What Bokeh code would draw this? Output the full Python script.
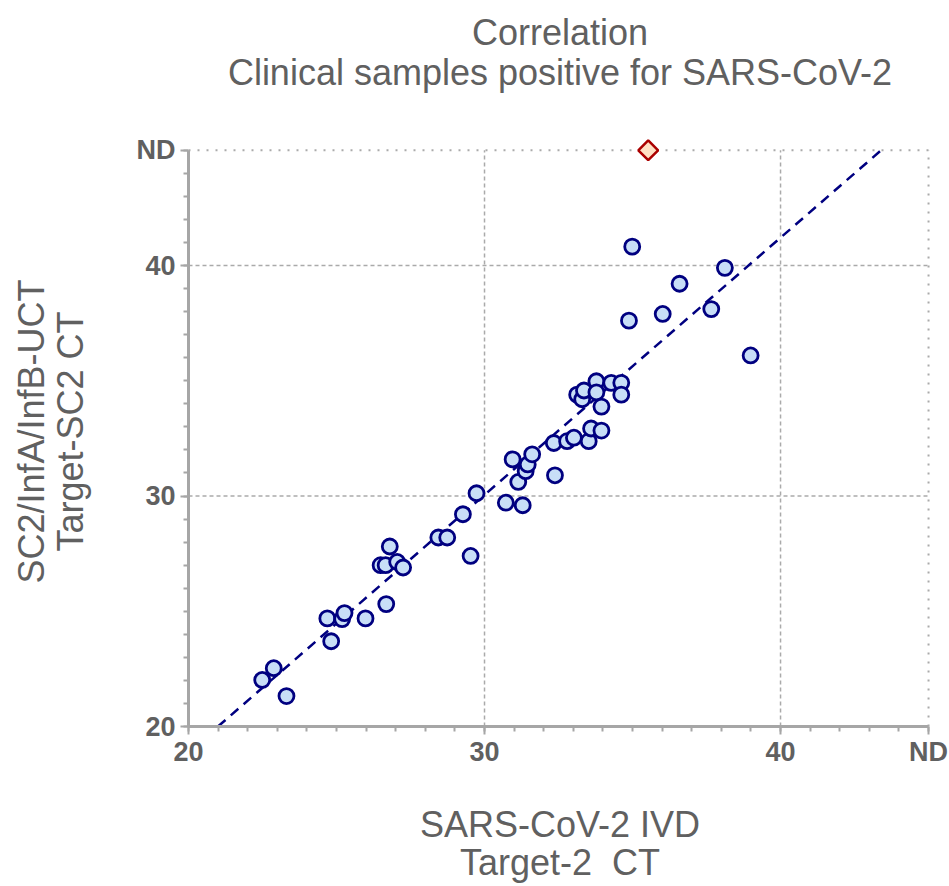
import numpy as np
from bokeh.plotting import figure
from bokeh.models import FixedTicker, Range1d, Title
from bokeh.embed import file_html
from bokeh.resources import INLINE

# ---------------- data ----------------
x_ivd = [22.49, 22.88, 23.31, 24.69, 25.19, 25.27, 24.82, 25.98, 26.68, 26.49,
         26.66, 26.80, 27.05, 27.25, 28.44, 28.74, 29.27, 29.53, 29.73, 30.72,
         31.29, 31.14, 31.39, 31.46, 30.95, 31.61, 32.34, 32.38, 32.79, 33.02,
         33.52, 33.60, 33.95, 33.13, 33.30, 33.36, 33.78, 33.78, 33.95, 34.28,
         34.62, 34.62, 34.99, 38.12, 36.59, 36.02, 34.88, 37.66, 38.99]
y_uct = [22.02, 22.53, 21.32, 24.69, 24.66, 24.92, 23.70, 24.69, 25.31, 27.00,
         27.00, 27.81, 27.14, 26.90, 28.20, 28.20, 29.21, 27.40, 30.12, 29.71,
         29.60, 30.61, 31.08, 31.37, 31.59, 31.81, 32.30, 30.90, 32.38, 32.53,
         32.38, 32.93, 32.84, 34.40, 34.20, 34.58, 34.98, 34.50, 33.88, 34.91,
         34.91, 34.40, 40.82, 39.90, 39.21, 37.90, 37.61, 38.11, 36.10]

# sample detected by IVD but not detected (ND) by UCT
nd_sample_x = [35.53]

ND = 45                      # axis position used for "ND"
axis_min = 20
major_ticks = [20, 30, 40, 45]
tick_labels = {45: "ND"}
minor_ticks = list(range(20, 46))
dashed_grid = [30, 40]
dotted_grid = [45]

fit_slope = 1.116
fit_intercept = -3.43

title_main = "Correlation"
title_sub = "Clinical samples positive for SARS-CoV-2"
x_label = "SARS-CoV-2 IVD\nTarget-2\u00a0 CT"
y_label = "SC2/InfA/InfB-UCT\nTarget-SC2 CT"

TXT = "#606060"
AX = "#a6a6a6"
GRID = "#aaaaaa"
FONT = "Liberation Sans"

# ---------------- figure ----------------
p = figure(width=949, height=886,
           x_range=Range1d(20, 45.1), y_range=Range1d(20, 45.6),
           output_backend="svg", toolbar_location=None,
           min_border_left=188, min_border_right=18,
           min_border_top=136, min_border_bottom=158)
p.outline_line_color = None
p.xgrid.visible = False
p.ygrid.visible = False

# above panels: spacer (nearest frame), subtitle, then main title (outermost)
p.add_layout(Title(text=" ", text_font=FONT, text_font_size="1px", standoff=45), "above")
p.add_layout(Title(text=title_sub, align="center", text_font=FONT,
                   text_font_size="36px", text_font_style="normal",
                   text_color=TXT, standoff=-8), "above")
p.title.text = title_main
p.title.align = "center"
p.title.text_font = FONT
p.title.text_font_size = "36px"
p.title.text_font_style = "normal"
p.title.text_color = TXT
p.title.standoff = 2

for ax in (p.xaxis[0], p.yaxis[0]):
    ax.ticker = FixedTicker(ticks=major_ticks, minor_ticks=minor_ticks)
    ax.bounds = (axis_min, ND)
    ax.major_label_overrides = tick_labels
    ax.axis_line_color = AX
    ax.axis_line_width = 3
    ax.major_tick_line_color = AX
    ax.major_tick_line_width = 2
    ax.major_tick_out = 8
    ax.major_tick_in = 0
    ax.minor_tick_line_color = AX
    ax.minor_tick_line_width = 2
    ax.minor_tick_out = 5
    ax.minor_tick_in = 0
    ax.major_label_text_font = FONT
    ax.major_label_text_font_size = "27px"
    ax.major_label_text_font_style = "bold"
    ax.major_label_text_color = TXT
    ax.axis_label_text_font = FONT
    ax.axis_label_text_font_size = "36px"
    ax.axis_label_text_font_style = "normal"
    ax.axis_label_text_color = TXT
    ax.axis_label_text_line_height = 0.95

p.xaxis[0].axis_label = x_label
p.yaxis[0].axis_label = y_label
p.xaxis[0].major_label_standoff = 2
p.yaxis[0].major_label_standoff = 5
p.xaxis[0].axis_label_standoff = 34
p.yaxis[0].axis_label_standoff = 43

# grid lines (stop at the ND position)
n = len(dashed_grid)
p.segment(x0=dashed_grid, y0=[axis_min] * n, x1=dashed_grid, y1=[ND] * n,
          line_color=GRID, line_width=1.5, line_dash="4 3", level="underlay")
p.segment(x0=[axis_min] * n, y0=dashed_grid, x1=[ND] * n, y1=dashed_grid,
          line_color=GRID, line_width=1.5, line_dash="4 3", level="underlay")
m = len(dotted_grid)
p.segment(x0=dotted_grid, y0=[axis_min] * m, x1=dotted_grid, y1=[ND] * m,
          line_color=GRID, line_width=2, line_dash="2 7", level="underlay")
p.segment(x0=[axis_min] * m, y0=dotted_grid, x1=[ND] * m, y1=dotted_grid,
          line_color=GRID, line_width=2, line_dash="2 7", level="underlay")

# regression line
fx = np.array([(axis_min - fit_intercept) / fit_slope, (ND - fit_intercept) / fit_slope])
fy = fit_slope * fx + fit_intercept
p.line(fx, fy, line_color="#000080", line_width=2.5, line_dash="10 7")

# samples
p.scatter(x_ivd, y_uct, marker="circle", size=15,
          fill_color="#c8def7", line_color="#000080", line_width=2.8)
p.scatter(nd_sample_x, [ND] * len(nd_sample_x), marker="square", angle=np.pi / 4,
          size=14, fill_color="#ffe0c4", line_color="#aa0000", line_width=2.5)

open("out.html", "w").write(file_html(p, INLINE))
